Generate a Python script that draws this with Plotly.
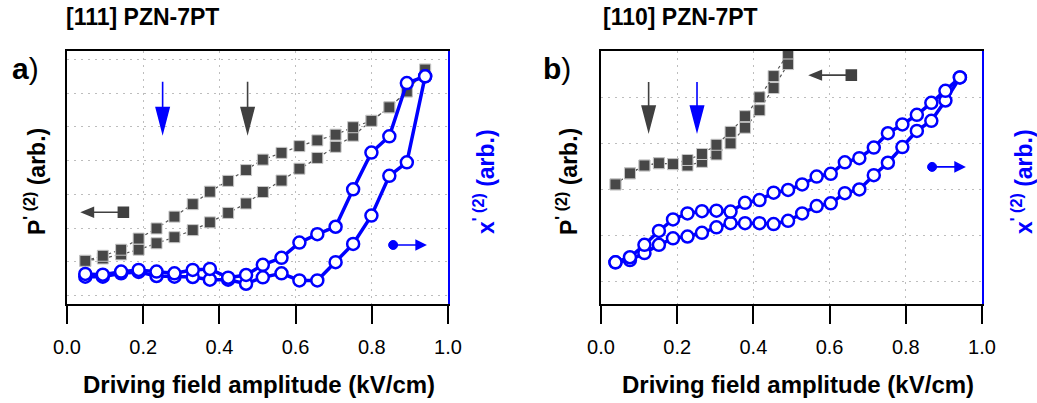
import plotly.graph_objects as go

# ---------------- data ----------------
# Panel a: [111] PZN-7PT
XA = [0.048, 0.094, 0.142, 0.188, 0.235, 0.282, 0.330, 0.375, 0.423, 0.470,
      0.514, 0.563, 0.610, 0.657, 0.705, 0.751, 0.799, 0.846, 0.892, 0.940]
PA_UPPER = [1.03, 1.18, 1.36, 1.69, 1.99, 2.34, 2.71, 3.08, 3.40, 3.72,
            4.03, 4.23, 4.43, 4.60, 4.77, 4.99, 5.18, 5.58, 6.05, 6.70]
PA_LOWER = [1.03, 1.10, 1.22, 1.36, 1.55, 1.73, 1.94, 2.17, 2.45, 2.73,
            3.07, 3.41, 3.76, 4.08, 4.41, 4.74, 5.18, 5.58, 6.05, 6.70]
CA_UPPER = [0.64, 0.62, 0.71, 0.76, 0.71, 0.66, 0.76, 0.79, 0.53, 0.61,
            0.91, 1.12, 1.57, 1.82, 2.04, 3.15, 4.24, 4.72, 6.30, 6.50]
CA_LOWER = [0.56, 0.56, 0.66, 0.70, 0.58, 0.56, 0.55, 0.47, 0.47, 0.35,
            0.54, 0.66, 0.45, 0.45, 0.99, 1.53, 2.37, 3.55, 3.95, 6.50]

# Panel b: [110] PZN-7PT
XB = [0.038, 0.076, 0.114, 0.152, 0.189, 0.227, 0.265, 0.303, 0.340, 0.378,
      0.416, 0.453, 0.491, 0.528, 0.566, 0.603, 0.640, 0.678, 0.716, 0.753,
      0.791, 0.829, 0.867, 0.904, 0.942]
PB_UPPER = [2.11, 2.35, 2.52, 2.57, 2.55, 2.64, 2.77, 2.97, 3.25, 3.59, 4.00, 4.46, 4.95]
PB_LOWER = [2.11, 2.35, 2.52, 2.57, 2.55, 2.52, 2.60, 2.76, 3.00, 3.34, 3.72, 4.20, 4.72]
CB_UPPER = [0.42, 0.53, 0.80, 1.10, 1.35, 1.48, 1.53, 1.54, 1.52, 1.71,
            1.77, 1.93, 1.99, 2.11, 2.28, 2.34, 2.59, 2.68, 2.91, 3.22,
            3.41, 3.62, 3.88, 4.14, 4.43]
CB_LOWER = [0.42, 0.47, 0.62, 0.80, 0.94, 0.98, 1.06, 1.18, 1.27, 1.27,
            1.27, 1.25, 1.32, 1.48, 1.64, 1.70, 1.92, 2.00, 2.31, 2.58,
            2.92, 3.27, 3.49, 3.93, 4.43]

X_TICKS = [0.0, 0.2, 0.4, 0.6, 0.8, 1.0]
X_TICK_LABELS = ["0.0", "0.2", "0.4", "0.6", "0.8", "1.0"]
TITLE_A = "<b>[111] PZN-7PT</b>"
TITLE_B = "<b>[110] PZN-7PT</b>"
X_TITLE = "<b>Driving field amplitude (kV/cm)</b>"
Y_LEFT_TITLE = "<b>P<sup>' (2)</sup> (arb.)</b>"
Y_RIGHT_TITLE = "<b>x<sup>' (2)</sup> (arb.)</b>"

# decorations: (x, y) anchor positions in data units
DOWN_ARROWS_A = [(0.251, 4.83, "blue"), (0.474, 4.83, "gray")]
DOWN_ARROWS_B = [(0.125, 3.27, "gray"), (0.252, 3.27, "blue")]
KEY_SQ_A = (0.148, 2.47)
KEY_DOT_A = (0.856, 1.50)
KEY_SQ_B = (0.657, 4.48)
KEY_DOT_B = (0.869, 2.49)

# ---------------- style ----------------
W, H = 1037, 403
GRAY = "#474747"
BLUE = "#0000ff"
FONT = "Liberation Sans, Arial, sans-serif"
YA_RANGE = [-0.25, 7.25]
YB_RANGE = [-0.484, 5.004]
DOM_A = [67 / W, 448 / W]
DOM_B = [601 / W, 982 / W]
DOM_Y = [1 - 304 / H, 1 - 51 / H]


def px(x):
    return x / W


def py(y):
    return 1 - y / H


fig = go.Figure()


def add_squares(xs, ys, xa, ya):
    fig.add_trace(go.Scatter(
        x=xs, y=ys, xaxis=xa, yaxis=ya, mode="lines+markers",
        line=dict(color="#555555", width=1.2, dash="dot"),
        marker=dict(symbol="square", size=11, color=GRAY,
                    line=dict(color="#c8c8c8", width=1)),
        showlegend=False, hoverinfo="skip"))


def add_circles(xs, ys, xa, ya):
    fig.add_trace(go.Scatter(
        x=xs, y=ys, xaxis=xa, yaxis=ya, mode="lines+markers",
        line=dict(color=BLUE, width=3.5),
        marker=dict(symbol="circle", size=12, color="white",
                    line=dict(color=BLUE, width=2.5)),
        showlegend=False, hoverinfo="skip"))


add_squares(XA, PA_LOWER, "x", "y")
add_squares(XA, PA_UPPER, "x", "y")
add_circles(XA, CA_LOWER, "x", "y2")
add_circles(XA, CA_UPPER, "x", "y2")

add_squares(XB[:len(PB_LOWER)], PB_LOWER, "x2", "y3")
add_squares(XB[:len(PB_UPPER)], PB_UPPER, "x2", "y3")
add_circles(XB, CB_LOWER, "x2", "y4")
add_circles(XB, CB_UPPER, "x2", "y4")

grid = dict(showgrid=True, gridcolor="#bdbdbd", gridwidth=1.3, griddash="2px,5px")

xcommon = dict(range=[0, 1], tickvals=X_TICKS, ticktext=X_TICK_LABELS,
               ticks="outside", ticklen=18, tickwidth=1.5, tickcolor="black",
               showline=True, linecolor="black", linewidth=2, mirror=True,
               tickfont=dict(family=FONT, size=20, color="black"),
               ticklabelstandoff=6, zeroline=False, automargin=False, **grid)
ycommon = dict(showticklabels=False, ticks="", zeroline=False, dtick=1, tick0=0,
               showline=True, linecolor="black", linewidth=2, automargin=False, **grid)
y2common = dict(showticklabels=False, ticks="", zeroline=False, showgrid=False,
                showline=True, linecolor=BLUE, linewidth=2, side="right",
                automargin=False)

fig.update_layout(
    width=W, height=H, margin=dict(l=0, r=0, t=0, b=0),
    paper_bgcolor="white", plot_bgcolor="white",
    xaxis=dict(domain=DOM_A, anchor="y", **xcommon),
    yaxis=dict(domain=DOM_Y, anchor="x", range=YA_RANGE, **ycommon),
    yaxis2=dict(domain=DOM_Y, anchor="x", overlaying="y", range=YA_RANGE, **y2common),
    xaxis2=dict(domain=DOM_B, anchor="y3", **xcommon),
    yaxis3=dict(domain=DOM_Y, anchor="x2", range=YB_RANGE, **ycommon),
    yaxis4=dict(domain=DOM_Y, anchor="x2", overlaying="y3", range=YB_RANGE, **y2common),
)

# ---------------- text ----------------
ann = []


def text(s, x, y, size, color="black", angle=0, xanchor="center"):
    ann.append(dict(text=s, x=px(x), y=py(y), xref="paper", yref="paper",
                    showarrow=False, textangle=angle, xanchor=xanchor, yanchor="middle",
                    font=dict(family=FONT, size=size, color=color)))


text(TITLE_A, 64, 17, 23, xanchor="left")
text(TITLE_B, 601, 17, 23, xanchor="left")
text("<b>a</b>)", 10, 68, 30, xanchor="left")
text("<b>b</b>)", 541, 68, 30, xanchor="left")
text(X_TITLE, 259, 384, 24)
text(X_TITLE, 798, 384, 24)
text(Y_LEFT_TITLE, 35, 182, 23, angle=-90)
text(Y_RIGHT_TITLE, 484, 182, 23, color=BLUE, angle=-90)
text(Y_LEFT_TITLE, 567, 182, 23, angle=-90)
text(Y_RIGHT_TITLE, 1022, 182, 23, color=BLUE, angle=-90)
fig.update_layout(annotations=ann)

# ---------------- arrows / keys (pixel-sized shapes anchored in data) ----------------
shapes = []
COL = {"blue": BLUE, "gray": "#404040"}


def pshape(path, xa, ya, x, y, color):
    shapes.append(dict(type="path", path=path, xref=xa, yref=ya,
                       xsizemode="pixel", ysizemode="pixel", xanchor=x, yanchor=y,
                       line=dict(color=color, width=1.6),
                       fillcolor=color, layer="above"))


def pdot(xa, ya, x, y, color, r=4.5):
    shapes.append(dict(type="circle", xref=xa, yref=ya,
                       xsizemode="pixel", ysizemode="pixel", xanchor=x, yanchor=y,
                       x0=-r, x1=r, y0=-r, y1=r,
                       line=dict(color=color, width=1), fillcolor=color, layer="above"))


for (x, y, c) in DOWN_ARROWS_A:
    pshape("M0,51 L0,22 M-6.5,25 L6.5,25 L0,0 Z", "x", "y", x, y, COL[c])
for (x, y, c) in DOWN_ARROWS_B:
    pshape("M0,49 L0,22 M-6.5,25 L6.5,25 L0,0 Z", "x2", "y3", x, y, COL[c])

# left-pointing key with square
for (x, y), xa, ya in [(KEY_SQ_A, "x", "y"), (KEY_SQ_B, "x2", "y3")]:
    pshape("M-5,-5 L5,-5 L5,5 L-5,5 Z M-5,0 L-30,0 M-30,4.5 L-30,-4.5 L-41,0 Z",
           xa, ya, x, y, "#404040")
# right-pointing key with dot
for (x, y), xa, ya in [(KEY_DOT_A, "x", "y"), (KEY_DOT_B, "x2", "y3")]:
    pshape("M0,0 L23,0 M23,4.5 L23,-4.5 L32,0 Z", xa, ya, x, y, BLUE)
    pdot(xa, ya, x, y, BLUE)

fig.update_layout(shapes=shapes)

fig.write_html("out.html", config={"displayModeBar": False},
               post_script="document.body.style.margin='0';")
